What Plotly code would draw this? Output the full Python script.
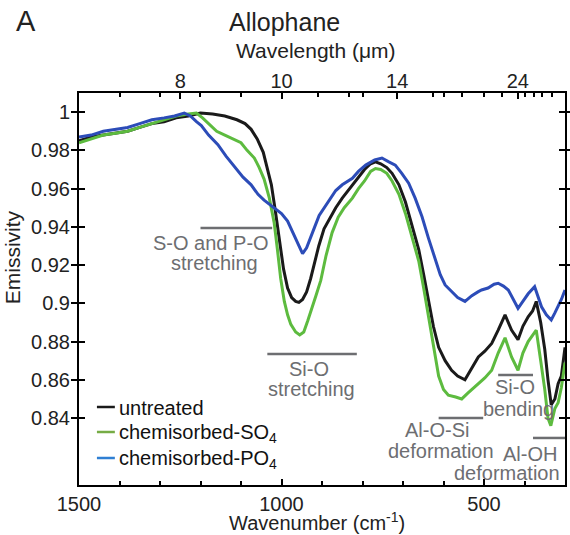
import plotly.graph_objects as go

# ---------------- data ----------------
wn_untreated = [1500, 1470, 1440, 1410, 1380, 1350, 1320, 1290, 1260, 1230, 1200, 1170, 1140, 1110,
                1090, 1075, 1060, 1045, 1035, 1025, 1015, 1005, 995, 985, 975, 965, 957, 948, 938,
                928, 918, 908, 895, 880, 866, 850, 835, 825, 810, 795, 780, 768, 755, 740, 727, 710,
                694, 678, 661, 649, 637, 625, 612, 596, 580, 565, 547, 530, 514, 498, 481, 465, 448,
                432, 416, 404, 391, 380, 371, 360, 350, 342, 334, 325, 317, 309, 300]
em_untreated = [0.985, 0.987, 0.988, 0.989, 0.990, 0.992, 0.994, 0.995, 0.997, 0.998, 0.9995, 0.999,
                0.998, 0.996, 0.994, 0.991, 0.986, 0.979, 0.971, 0.962, 0.948, 0.932, 0.918, 0.908,
                0.903, 0.901, 0.9005, 0.902, 0.906, 0.913, 0.922, 0.930, 0.939, 0.945, 0.950, 0.955,
                0.959, 0.962, 0.966, 0.970, 0.973, 0.974, 0.973, 0.971, 0.968, 0.962, 0.953, 0.941,
                0.928, 0.915, 0.902, 0.888, 0.877, 0.870, 0.865, 0.862, 0.860, 0.866, 0.872, 0.875,
                0.879, 0.886, 0.894, 0.886, 0.881, 0.888, 0.893, 0.896, 0.901, 0.890, 0.876, 0.860,
                0.847, 0.850, 0.858, 0.862, 0.877]

wn_so4 = [1500, 1470, 1440, 1410, 1380, 1350, 1320, 1290, 1260, 1230, 1210, 1195, 1180, 1160, 1140,
          1120, 1100, 1085, 1067, 1055, 1043, 1030, 1018, 1010, 1002, 993, 985, 977, 965, 955, 945,
          935, 928, 915, 903, 890, 875, 860, 845, 825, 810, 795, 780, 768, 755, 740, 727, 710, 694,
          678, 661, 649, 637, 625, 612, 600, 588, 570, 555, 540, 525, 514, 498, 481, 465, 448, 432,
          416, 404, 391, 380, 371, 360, 350, 342, 335, 325, 317, 309, 300]
em_so4 = [0.984, 0.986, 0.988, 0.989, 0.990, 0.992, 0.994, 0.996, 0.998, 0.999, 0.9995, 0.997, 0.994,
          0.990, 0.988, 0.986, 0.984, 0.980, 0.976, 0.971, 0.965, 0.955, 0.942, 0.928, 0.913, 0.901,
          0.894, 0.889, 0.885, 0.8835, 0.885, 0.891, 0.896, 0.904, 0.912, 0.925, 0.937, 0.945, 0.950,
          0.955, 0.960, 0.964, 0.969, 0.9705, 0.970, 0.968, 0.964, 0.957, 0.947, 0.935, 0.922, 0.908,
          0.893, 0.876, 0.862, 0.855, 0.852, 0.851, 0.850, 0.853, 0.856, 0.858, 0.861, 0.865, 0.874,
          0.882, 0.872, 0.865, 0.874, 0.880, 0.883, 0.886, 0.870, 0.855, 0.840, 0.836, 0.845, 0.848,
          0.856, 0.869]

wn_po4 = [1500, 1470, 1440, 1410, 1380, 1350, 1320, 1290, 1264, 1240, 1225, 1210, 1198, 1180, 1157,
          1137, 1116, 1095, 1075, 1058, 1043, 1030, 1018, 1000, 985, 970, 958, 948, 938, 928, 918,
          907, 895, 880, 866, 850, 825, 810, 792, 770, 752, 735, 719, 703, 686, 670, 653, 637, 620,
          608, 596, 580, 565, 547, 530, 515, 506, 490, 475, 465, 452, 440, 428, 416, 404, 391, 375,
          366, 358, 346, 334, 325, 317, 309, 300]
em_po4 = [0.987, 0.988, 0.990, 0.991, 0.992, 0.994, 0.996, 0.997, 0.998, 0.9995, 0.998, 0.995, 0.993,
          0.988, 0.983, 0.977, 0.9715, 0.966, 0.962, 0.957, 0.954, 0.952, 0.950, 0.947, 0.943, 0.936,
          0.930, 0.926, 0.929, 0.934, 0.940, 0.946, 0.950, 0.955, 0.959, 0.962, 0.9654, 0.969,
          0.9723, 0.975, 0.976, 0.974, 0.9723, 0.968, 0.9628, 0.955, 0.9453, 0.934, 0.9227, 0.915,
          0.9096, 0.906, 0.903, 0.901, 0.904, 0.906, 0.907, 0.908, 0.910, 0.9105, 0.909, 0.907,
          0.902, 0.8974, 0.901, 0.905, 0.9087, 0.903, 0.8982, 0.894, 0.8913, 0.895, 0.8982, 0.902,
          0.907]

series_names = ["untreated", "chemisorbed-SO<sub>4</sub>", "chemisorbed-PO<sub>4</sub>"]

x_ticks = [1500, 1000, 500]
y_ticks = [0.84, 0.86, 0.88, 0.9, 0.92, 0.94, 0.96, 0.98, 1.0]
y_ticktext = ["0.84", "0.86", "0.88", "0.9", "0.92", "0.94", "0.96", "0.98", "1"]

wl_major = [8, 10, 14, 24]                      # wavelength tick labels (um)
wl_minor = [7.143, 7.692, 8.333, 9.091, 11, 12, 12.5, 16, 16.7, 18, 20, 22, 25, 26.6, 28, 30]

# feature bars: (x start, x end, y) in data units
feature_bars = [(1200, 1023, 0.9394), (1035, 814, 0.8735), (612, 502, 0.840),
                (465, 379, 0.8625), (379, 300, 0.8296)]
# feature labels: (text, x, y)
feature_labels = [("S-O and P-O", 1175, 0.9315), ("stretching", 1166, 0.9211),
                  ("Si-O", 932, 0.8655), ("stretching", 927, 0.8553),
                  ("Al-O-Si", 617, 0.8336), ("deformation", 607, 0.8229),
                  ("Si-O", 423, 0.8561), ("bending", 416, 0.8447),
                  ("Al-OH", 386, 0.8210), ("deformation", 443, 0.8114)]

# ---------------- figure ----------------
FONT = "Liberation Sans, Arial, Helvetica, sans-serif"
GRAY = "#6d6e71"
colors = ["#1a1a1a", "#5dbb3f", "#2c4cb8"]
legend_colors = ["#1a1a1a", "#76ac45", "#2f7fd3"]

W, H = 570, 535
ML, MR, MT, MB = 79, 3, 93, 50
PW, PH = W - ML - MR, H - MT - MB


def px(x):   # pixel -> paper x
    return (x - ML) / PW


def py(y):   # pixel -> paper y
    return (H - MB - y) / PH


fig = go.Figure()
for wn, em, name, c in zip([wn_untreated, wn_so4, wn_po4],
                           [em_untreated, em_so4, em_po4], series_names, colors):
    fig.add_trace(go.Scatter(x=wn, y=em, mode="lines", name=name, showlegend=False,
                             line=dict(color=c, width=3)))

# invisible trace so the top (wavelength) axis is drawn
fig.add_trace(go.Scatter(x=[1500], y=[1.0], xaxis="x2", mode="markers",
                         marker=dict(opacity=0), showlegend=False, hoverinfo="skip"))

for x0, x1, yy in feature_bars:
    fig.add_shape(type="line", x0=x0, x1=x1, y0=yy, y1=yy, xref="x", yref="y",
                  line=dict(color=GRAY, width=2.5))

for txt, xx, yy in feature_labels:
    fig.add_annotation(text=txt, x=xx, y=yy, xref="x", yref="y", showarrow=False,
                       font=dict(family=FONT, size=20, color=GRAY),
                       xanchor="center", yanchor="middle")

# legend (drawn in the lower-left corner of the plot)
legend_rows = [407, 432, 458]
for name, c, ry in zip(series_names, legend_colors, legend_rows):
    fig.add_shape(type="line", xref="paper", yref="paper", x0=px(97), x1=px(115),
                  y0=py(ry), y1=py(ry), line=dict(color=c, width=2.5))
    fig.add_annotation(text=name, x=px(117), y=py(ry + 1), xref="paper", yref="paper",
                       showarrow=False, xanchor="left", yanchor="middle",
                       font=dict(family=FONT, size=20, color="#111"))

# titles
fig.add_annotation(text="A", x=px(26), y=py(21), xref="paper", yref="paper", showarrow=False,
                   font=dict(family=FONT, size=29, color="#222"), xanchor="center", yanchor="middle")
fig.add_annotation(text="Allophane", x=px(285), y=py(22), xref="paper", yref="paper",
                   showarrow=False, font=dict(family=FONT, size=25, color="#222"),
                   xanchor="center", yanchor="middle")
fig.add_annotation(text="Wavelength (\u03bcm)", x=px(317), y=py(50), xref="paper", yref="paper",
                   showarrow=False, font=dict(family=FONT, size=21, color="#222"),
                   xanchor="center", yanchor="middle")
fig.add_annotation(text="Wavenumber (cm<sup>-1</sup>)", x=px(318), y=py(521), xref="paper",
                   yref="paper", showarrow=False, font=dict(family=FONT, size=20, color="#222"),
                   xanchor="center", yanchor="middle")
fig.add_annotation(text="Emissivity", x=px(12), y=py(257), xref="paper", yref="paper",
                   showarrow=False, textangle=-90, font=dict(family=FONT, size=21, color="#222"),
                   xanchor="center", yanchor="middle")

xr = [1500, 300]
fig.update_layout(
    width=W, height=H,
    margin=dict(l=ML, r=MR, t=MT, b=MB),
    paper_bgcolor="white", plot_bgcolor="white",
    font=dict(family=FONT, size=20, color="#222"),
    showlegend=False,
    xaxis=dict(range=xr, tickmode="array", tickvals=x_ticks, ticks="inside", ticklen=6,
               tickwidth=2, tickcolor="black", showline=True, linecolor="black", linewidth=2,
               mirror=True, showgrid=False, zeroline=False,
               minor=dict(dtick=100, tick0=0, ticks="inside", ticklen=4, tickwidth=1.5,
                          tickcolor="black", showgrid=False),
               ticklabelstandoff=0),
    xaxis2=dict(range=xr, overlaying="x", side="top", anchor="y", tickmode="array",
                tickvals=[10000 / w for w in wl_major], ticktext=[str(w) for w in wl_major],
                ticks="inside", ticklen=6, tickwidth=2, tickcolor="black",
                showline=False, showgrid=False, zeroline=False,
                minor=dict(tickmode="array", tickvals=[10000 / w for w in wl_minor],
                           ticks="inside", ticklen=4, tickwidth=1.5, tickcolor="black",
                           showgrid=False),
                ticklabelstandoff=0),
    yaxis=dict(range=[0.805, 1.01], tickmode="array", tickvals=y_ticks, ticktext=y_ticktext,
               ticks="inside", ticklen=6, tickwidth=2, tickcolor="black", showline=True,
               linecolor="black", linewidth=2, mirror="allticks", showgrid=False, zeroline=False,
               ticklabelstandoff=3),
)

fig.write_html("out.html")
